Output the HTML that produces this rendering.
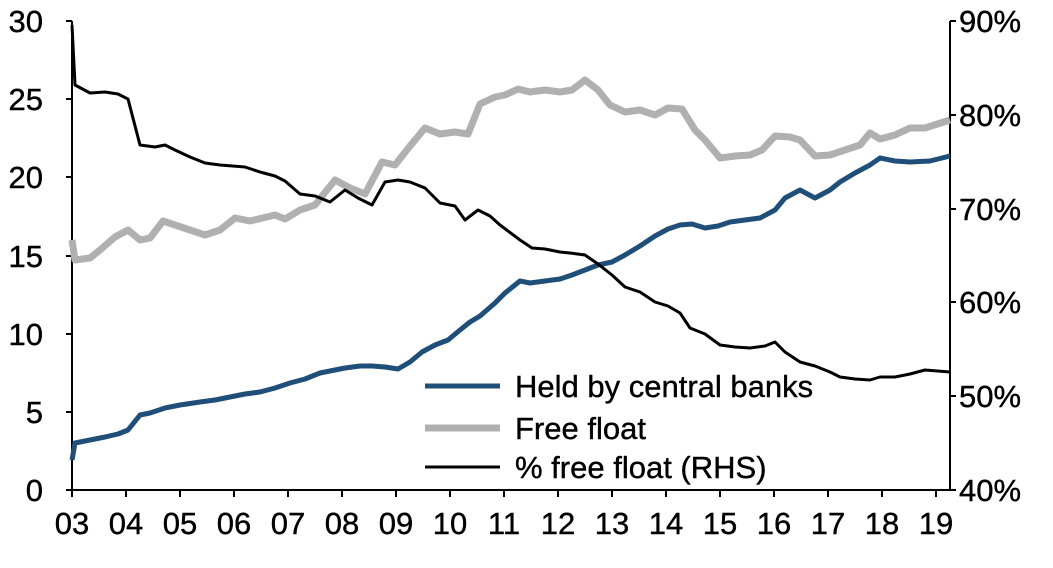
<!DOCTYPE html>
<html><head><meta charset="utf-8"><style>
html,body{margin:0;padding:0;background:#fff;}
svg text{font-family:"Liberation Sans",Arial,sans-serif;font-size:31px;fill:#000;stroke:#000;stroke-width:0.4;}
</style></head><body>
<svg width="1053" height="563" viewBox="0 0 1053 563" xmlns="http://www.w3.org/2000/svg">
<g stroke="#000" stroke-width="2" fill="none">
<line x1="72" y1="21" x2="72" y2="490"/>
<line x1="950" y1="21" x2="950" y2="490"/>
<line x1="72" y1="490" x2="950" y2="490"/>
<line x1="66" y1="21" x2="72" y2="21"/><line x1="66" y1="99" x2="72" y2="99"/><line x1="66" y1="177" x2="72" y2="177"/><line x1="66" y1="256" x2="72" y2="256"/><line x1="66" y1="334" x2="72" y2="334"/><line x1="66" y1="412" x2="72" y2="412"/><line x1="66" y1="490" x2="72" y2="490"/>
<line x1="950" y1="21" x2="956" y2="21"/><line x1="950" y1="115" x2="956" y2="115"/><line x1="950" y1="209" x2="956" y2="209"/><line x1="950" y1="302" x2="956" y2="302"/><line x1="950" y1="396" x2="956" y2="396"/><line x1="950" y1="490" x2="956" y2="490"/>
<line x1="72" y1="490" x2="72" y2="497"/><line x1="126" y1="490" x2="126" y2="497"/><line x1="180" y1="490" x2="180" y2="497"/><line x1="234" y1="490" x2="234" y2="497"/><line x1="288" y1="490" x2="288" y2="497"/><line x1="342" y1="490" x2="342" y2="497"/><line x1="396" y1="490" x2="396" y2="497"/><line x1="450" y1="490" x2="450" y2="497"/><line x1="504" y1="490" x2="504" y2="497"/><line x1="558" y1="490" x2="558" y2="497"/><line x1="612" y1="490" x2="612" y2="497"/><line x1="666" y1="490" x2="666" y2="497"/><line x1="720" y1="490" x2="720" y2="497"/><line x1="774" y1="490" x2="774" y2="497"/><line x1="828" y1="490" x2="828" y2="497"/><line x1="882" y1="490" x2="882" y2="497"/><line x1="936" y1="490" x2="936" y2="497"/>
</g>
<g text-anchor="end">
<text x="43" y="32">30</text><text x="43" y="110">25</text><text x="43" y="188">20</text><text x="43" y="267">15</text><text x="43" y="345">10</text><text x="43" y="423">5</text><text x="43" y="501">0</text>
</g>
<g>
<text x="959" y="32">90%</text><text x="959" y="126">80%</text><text x="959" y="220">70%</text><text x="959" y="313">60%</text><text x="959" y="407">50%</text><text x="959" y="501">40%</text>
</g>
<g text-anchor="middle">
<text x="72" y="534">03</text><text x="126" y="534">04</text><text x="180" y="534">05</text><text x="234" y="534">06</text><text x="288" y="534">07</text><text x="342" y="534">08</text><text x="396" y="534">09</text><text x="450" y="534">10</text><text x="504" y="534">11</text><text x="558" y="534">12</text><text x="612" y="534">13</text><text x="666" y="534">14</text><text x="720" y="534">15</text><text x="774" y="534">16</text><text x="828" y="534">17</text><text x="882" y="534">18</text><text x="936" y="534">19</text>
</g>
<polyline fill="none" stroke="#b0b0b0" stroke-width="7" stroke-linejoin="round" points="72,240 75,260 90,258 100,250 115,237 128,230 140,240 150,238 163,221 175,225 190,230 205,235 220,230 235,218 250,221 275,215 285,219 300,210 315,205 335,180 350,188 365,194 382,162 395,165 410,146 425,128 440,134 455,132 468,134 480,104 495,97 505,95 518,89 530,92 545,90 560,92 572,90 585,80 598,90 610,105 625,112 640,110 655,115 668,108 682,109 695,130 705,140 720,158 735,156 750,155 762,150 775,136 790,137 800,140 815,156 830,155 845,150 860,145 870,133 880,139 895,135 910,128 925,128 950,120"/>
<polyline fill="none" stroke="#1f4e79" stroke-width="5" stroke-linejoin="round" points="72,460 75,443 90,440 105,437 118,434 128,430 140,415 150,413 165,408 180,405 200,402 215,400 230,397 245,394 260,392 275,388 290,383 305,379 320,373 335,370 345,368 360,366 372,366 385,367 398,369 410,362 422,352 435,345 448,340 460,330 470,322 480,316 495,303 505,293 520,281 530,283 545,281 560,279 572,275 585,270 598,265 612,262 625,255 640,246 655,236 668,229 680,225 692,224 705,228 718,226 730,222 745,220 760,218 775,210 785,198 800,190 815,198 830,190 840,182 855,173 870,165 880,158 895,161 910,162 930,161 950,156"/>
<rect x="415" y="372" width="400" height="115" fill="#fff"/>
<polyline fill="none" stroke="#000" stroke-width="3" stroke-linejoin="round" points="72,25 75,85 90,93 105,92 118,94 128,99 140,145 155,147 165,145 175,150 190,157 205,163 220,165 245,167 260,172 275,176 285,181 300,194 315,196 330,202 345,190 358,198 372,205 385,182 398,180 410,182 425,188 440,203 455,206 465,220 478,210 490,216 500,225 520,240 532,248 545,249 560,252 570,253 585,255 598,264 612,275 625,287 640,292 655,302 668,306 680,313 690,328 705,334 720,345 735,347 750,348 765,346 775,342 785,352 800,362 815,366 830,372 840,377 855,379 870,380 880,377 895,377 910,374 925,370 950,372"/>
<line x1="425" y1="386" x2="500" y2="386" stroke="#1f4e79" stroke-width="5"/>
<line x1="425" y1="428" x2="500" y2="428" stroke="#b0b0b0" stroke-width="7"/>
<line x1="425" y1="467" x2="500" y2="467" stroke="#000" stroke-width="3"/>
<text x="515" y="397">Held by central banks</text>
<text x="515" y="439">Free float</text>
<text x="515" y="478">% free float (RHS)</text>
</svg>
</body></html>
